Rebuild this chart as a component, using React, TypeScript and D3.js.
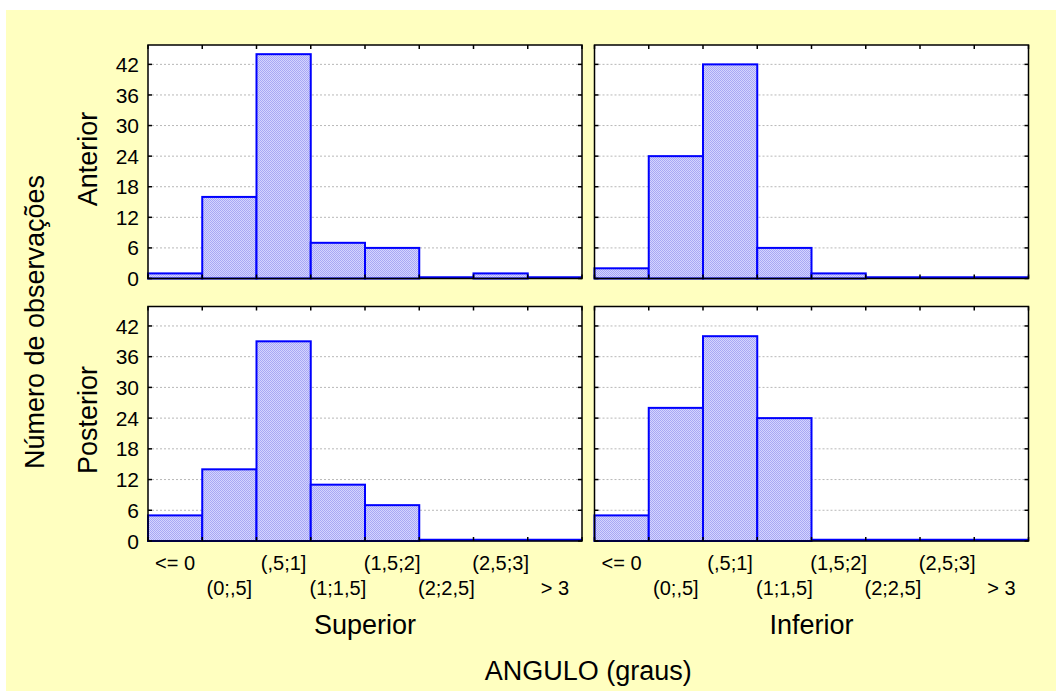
import React from 'react';
import * as d3 from 'd3';

const bins = ['<= 0', '(0;,5]', '(,5;1]', '(1;1,5]', '(1,5;2]', '(2;2,5]', '(2,5;3]', '> 3'];
const superiorAnterior = [1, 16, 44, 7, 6, 0, 1, 0];
const inferiorAnterior = [2, 24, 42, 6, 1, 0, 0, 0];
const superiorPosterior = [5, 14, 39, 11, 7, 0, 0, 0];
const inferiorPosterior = [5, 26, 40, 24, 0, 0, 0, 0];
const yTicks = [0, 6, 12, 18, 24, 30, 36, 42];
const columns = ['Superior', 'Inferior'];
const rows = ['Anterior', 'Posterior'];
const xTitle = 'ANGULO (graus)';
const yTitle = 'Número de observações';

const W = 1056;
const H = 691;
const font = 'Liberation Sans, Arial, sans-serif';

// panel layout
const colX = [[148, 582], [594.5, 1028.5]];
const rowY = [[45, 278.5], [306.5, 541]];
const rowLabelY = [159, 420];

const panels = [
  { r: 0, c: 0, values: superiorAnterior },
  { r: 0, c: 1, values: inferiorAnterior },
  { r: 1, c: 0, values: superiorPosterior },
  { r: 1, c: 1, values: inferiorPosterior },
];

const Panel: React.FC<{ r: number; c: number; values: number[] }> = ({ r, c, values }) => {
  const [x0, x1] = colX[c];
  const [y0, y1] = rowY[r];
  const x = d3.scaleBand<string>().domain(bins).range([x0, x1]).padding(0);
  const y = d3.scaleLinear().domain([0, 45.8]).range([y1, y0]);
  const bw = x.bandwidth();
  const bounds = bins.map((b) => x(b)!).concat([x1]);

  return (
    <g>
      <rect x={x0} y={y0} width={x1 - x0} height={y1 - y0} fill="#ffffff" />
      {yTicks.filter((t) => t > 0).map((t) => (
        <line key={t} x1={x0} x2={x1} y1={y(t)} y2={y(t)} stroke="#b8b8b8" strokeWidth={1} strokeDasharray="2,2" />
      ))}
      {values.map((v, i) => {
        const bx = x(bins[i])!;
        if (v === 0) {
          return <line key={i} x1={bx} x2={bx + bw} y1={y(0) - 1} y2={y(0) - 1} stroke="#0000ff" strokeWidth={2.5} />;
        }
        return (
          <rect key={i} x={bx} y={y(v)} width={bw} height={y(0) - y(v)}
            fill="url(#hatch)" stroke="#0000ff" strokeWidth={2} />
        );
      })}
      {/* ticks */}
      {bounds.map((bx, i) => (
        <g key={'xt' + i}>
          <line x1={bx} x2={bx} y1={y0} y2={y0 + 4} stroke="#000" strokeWidth={1.5} />
          <line x1={bx} x2={bx} y1={y1} y2={y1 - 4} stroke="#000" strokeWidth={1.5} />
        </g>
      ))}
      {yTicks.map((t) => (
        <g key={'yt' + t}>
          <line x1={x0} x2={x0 + 4} y1={y(t)} y2={y(t)} stroke="#000" strokeWidth={1.5} />
          <line x1={x1} x2={x1 - 4} y1={y(t)} y2={y(t)} stroke="#000" strokeWidth={1.5} />
        </g>
      ))}
      <rect x={x0} y={y0} width={x1 - x0} height={y1 - y0} fill="none" stroke="#000" strokeWidth={1.5} />
      {c === 0 && yTicks.map((t) => (
        <text key={'yl' + t} x={x0 - 9} y={y(t)} dy="0.36em" textAnchor="end" fontSize={21} fontFamily={font} fill="#000">{t}</text>
      ))}
      {r === 1 && bins.map((b, i) => (
        <text key={'xl' + i} x={x(b)! + bw / 2} y={i % 2 === 0 ? 562.5 : 588} dy="0.36em" textAnchor="middle" fontSize={20} fontFamily={font} fill="#000">{b}</text>
      ))}
    </g>
  );
};

const App: React.FC = () => {
  return (
    <div style={{ position: 'absolute', left: 0, top: 0, width: W, height: H }}>
      <svg width={W} height={H} style={{ display: 'block' }}>
        <defs>
          <pattern id="hatch" width={2} height={2} patternUnits="userSpaceOnUse">
            <rect width={2} height={2} fill="#d4d4ff" />
            <rect width={1} height={1} fill="#a8a8f4" />
            <rect x={1} y={1} width={1} height={1} fill="#a8a8f4" />
          </pattern>
        </defs>
        <rect x={0} y={0} width={W} height={H} fill="#ffffff" />
        <rect x={6} y={10} width={W - 6} height={H - 10} fill="#ffffc0" />
        {panels.map((p, i) => <Panel key={i} {...p} />)}
        {columns.map((c, i) => (
          <text key={c} x={(colX[i][0] + colX[i][1]) / 2} y={624} dy="0.36em" textAnchor="middle" fontSize={27} fontFamily={font} fill="#000">{c}</text>
        ))}
        {rows.map((r, i) => (
          <text key={r} transform={`translate(87,${rowLabelY[i]}) rotate(-90)`} dy="0.36em" textAnchor="middle" fontSize={27} fontFamily={font} fill="#000">{r}</text>
        ))}
        <text transform="translate(34,322) rotate(-90)" dy="0.36em" textAnchor="middle" fontSize={27} fontFamily={font} fill="#000">{yTitle}</text>
        <text x={(colX[0][0] + colX[1][1]) / 2} y={670} dy="0.36em" textAnchor="middle" fontSize={27} fontFamily={font} fill="#000">{xTitle}</text>
      </svg>
    </div>
  );
};

export default App;
